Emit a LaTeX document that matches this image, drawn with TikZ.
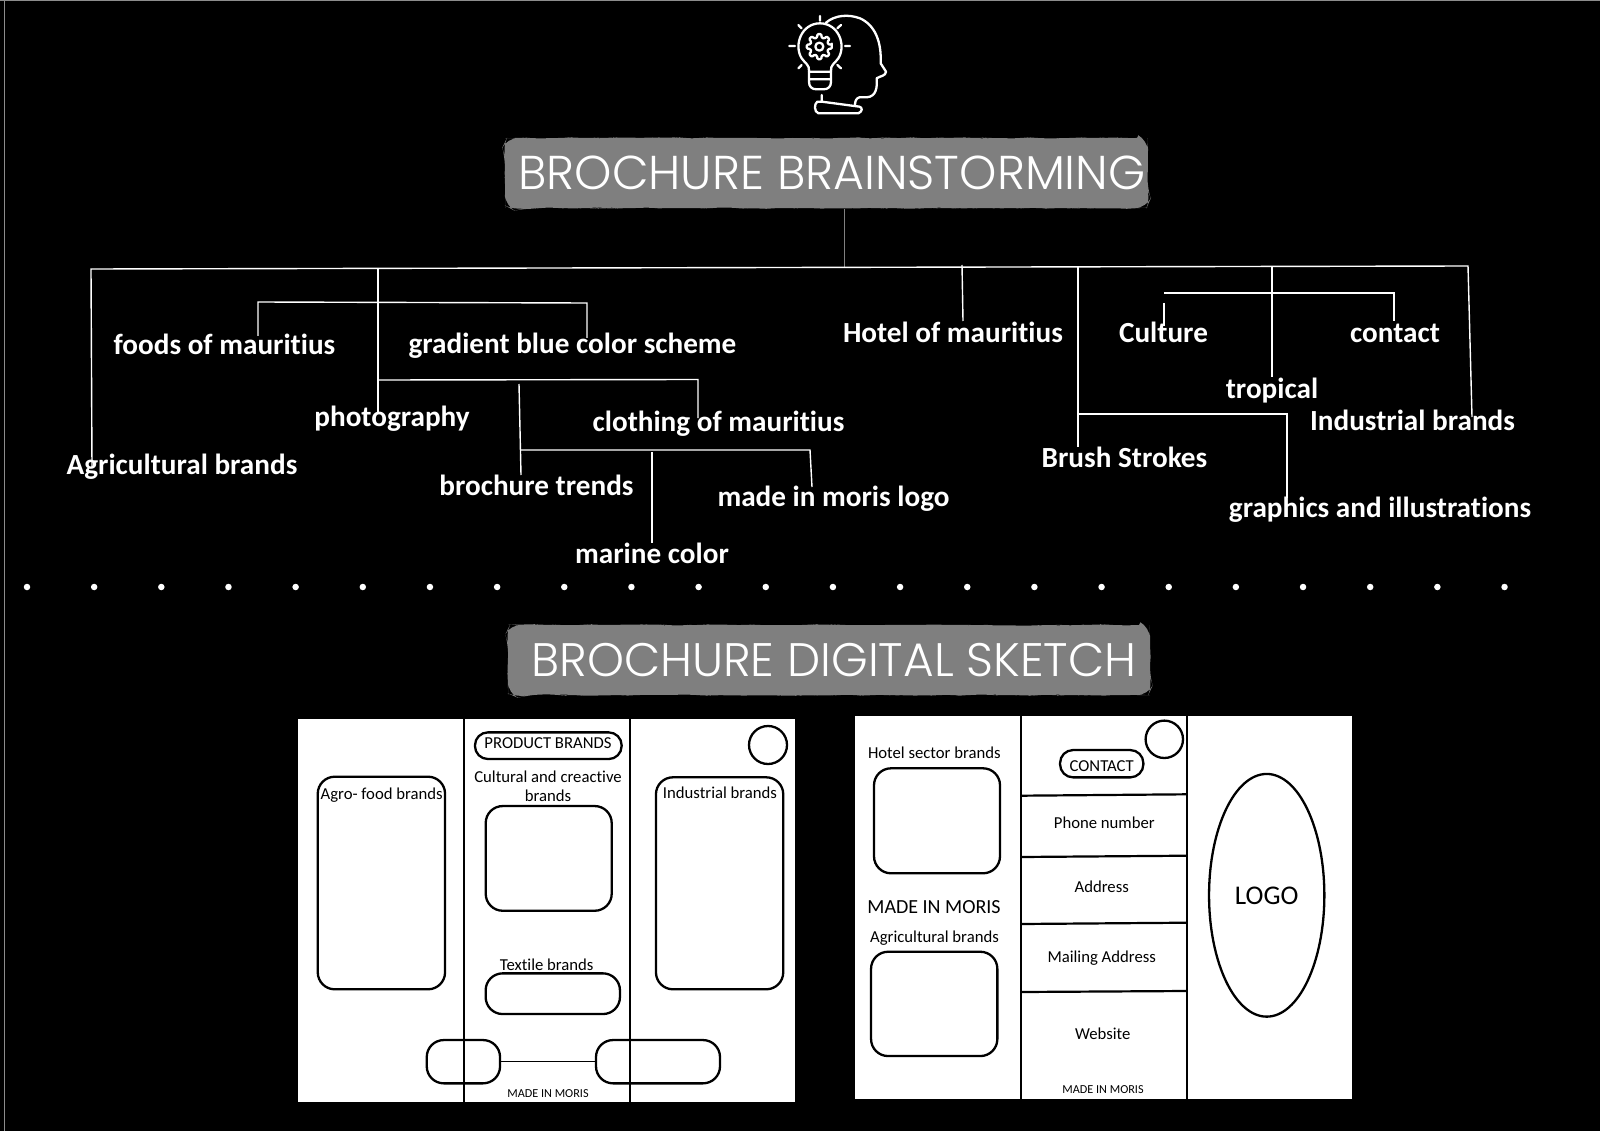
\documentclass[tikz,border=0pt]{standalone}
\usepackage{fontspec}
\setmainfont[Ligatures=NoCommon]{Carlito}
\newfontfamily\titlefont[UprightFont=* Light]{Poppins}
\usepackage{tikz}
\usetikzlibrary{decorations.pathmorphing,shapes.geometric}
\definecolor{titlegray}{HTML}{7F7F7F}
\tikzset{
  idea/.style={text=white,anchor=base,inner sep=0pt,font=\fontsize{29.2}{32}\selectfont\bfseries},
  branch/.style={white,line width=1.4pt},
  sepdot/.style={circle,fill=white,inner sep=0pt,minimum size=6.5pt},
  banner/.style={fill=titlegray,inner sep=0pt,rounded corners=11pt,decorate,decoration={random steps,segment length=9pt,amplitude=.7pt}},
  bannertext/.style={text=white,inner sep=0pt,font=\fontsize{47.5}{49}\titlefont},
  panel/.style={black,line width=2.2pt},
  sketchbox/.style={draw=black,line width=2.3pt,rounded corners=17pt,inner sep=0pt},
  sketchpill/.style={draw=black,line width=2.3pt,rounded corners=13pt,inner sep=0pt},
  note/.style={black,inner sep=0pt,align=center,font=\fontsize{16.7}{19}\selectfont},
  smallnote/.style={black,inner sep=0pt,font=\fontsize{12.2}{15}\selectfont}
}
\begin{document}
\begin{tikzpicture}[x=1pt,y=-1pt]
  \fill [black] (0,0) rectangle (1600,1131);
  \useasboundingbox (0,0) rectangle (1600,1131);
  \draw [gray!90, line width=1.2pt] (0,0.5) -- (1600,0.5) (4.5,0) -- (4.5,1131);

  % icon
  \begin{scope}[shift={(760,0)},x=0.3333pt,y=-0.3333pt,white,line width=2.3pt,line cap=round,line join=round]
    \draw (198,68) .. controls (225,45) and (265,42) .. (300,55) .. controls (345,75) and (365,125) .. (362,190) -- (378,215) .. controls (378,228) and (360,228) .. (350,235) .. controls (352,260) and (350,290) .. (320,292) -- (298,292) .. controls (288,295) and (285,305) .. (285,315);
    \draw (185,285) -- (185,305) -- (172,305) .. controls (162,312) and (162,335) .. (175,340) -- (295,340) .. controls (308,335) and (308,322) .. (298,320) -- (185,305);
    \draw (147,215) .. controls (150,195) and (135,190) .. (125,175) .. controls (100,135) and (125,70) .. (180,70) .. controls (235,70) and (260,135) .. (235,175) .. controls (225,190) and (210,195) .. (213,215) -- cycle;
    \draw (147,215) -- (147,245) .. controls (147,260) and (155,268) .. (170,268) -- (190,268) .. controls (205,268) and (213,260) .. (213,245) -- (213,215) (147,238) -- (213,238);
    \draw (178,140) circle [radius=12];
    \draw [rounded corners=1pt,shift={(178,140)}] (-9:38) \foreach \a in {0,45,...,315} { -- ({\a-9}:38) -- ({\a+9}:38) -- ({\a+14}:28) -- ({\a+31}:28) } -- cycle;
    \draw (180,48) -- (180,62) (115,75) -- (125,85) (88,138) -- (105,138) (255,138) -- (270,138) (115,205) -- (125,195) (232,195) -- (243,205) (232,85) -- (243,75);
  \end{scope}

  % first heading
  \node [banner,minimum width=643pt,minimum height=70pt] (brainbanner) at (826.5,173) {};
  \node [bannertext] (braintitle) at (832,173) {BROCHURE BRAINSTORMING};

  % tree labels
  \node [idea] (foods) at (224.5,354) {foods of mauritius};
  \node [idea] (gradient) at (572.5,353) {gradient blue color scheme};
  \node [idea] (photo) at (392,426) {photography};
  \node [idea] (clothing) at (718.5,431) {clothing of mauritius};
  \node [idea] (agri) at (182,474) {Agricultural brands};
  \node [idea] (trends) at (536.5,495) {brochure trends};
  \node [idea] (logoidea) at (833.5,506) {made in moris logo};
  \node [idea] (marine) at (652,563) {marine color};
  \node [idea] (hotel) at (953,342) {Hotel of mauritius};
  \node [idea] (culture) at (1163.5,343) {Culture};
  \node [idea] (contact) at (1395,343) {contact};
  \node [idea] (tropical) at (1272,398) {tropical};
  \node [idea] (industrial) at (1412.5,430) {Industrial brands};
  \node [idea] (brush) at (1124.5,467) {Brush Strokes};
  \node [idea] (graphics) at (1380,517) {graphics and illustrations};

  % joints of the tree
  \coordinate (stemtop) at (844,209);
  \coordinate (stem) at (844,267.5);
  \coordinate (trunkl) at (91,269);
  \coordinate (trunkr) at (1468,266);
  \coordinate (agriend) at (92,467);
  \coordinate (phototop) at (378,268.5);
  \coordinate (photoend) at (378,412);
  \coordinate (foodsend) at (258,336);
  \coordinate (foodsa) at (258,302);
  \coordinate (foodsb) at (587,303);
  \coordinate (gradend) at (587,338);
  \coordinate (clotha) at (378,380);
  \coordinate (clothb) at (698,379.5);
  \coordinate (clothend) at (698,418);
  \coordinate (trendtop) at (519,384);
  \coordinate (trendend) at (521,475);
  \coordinate (logoa) at (521,450);
  \coordinate (logob) at (810,450);
  \coordinate (logoend) at (812,487);
  \coordinate (marinetop) at (652,452);
  \coordinate (marineend) at (652,543);
  \coordinate (hoteltop) at (962,265);
  \coordinate (hotelend) at (963,321);
  \coordinate (brushtop) at (1078,267);
  \coordinate (brushend) at (1078,447);
  \coordinate (grapha) at (1078,414);
  \coordinate (graphb) at (1287,414);
  \coordinate (graphend) at (1287,498);
  \coordinate (troptop) at (1272,266.5);
  \coordinate (tropend) at (1272,377);
  \coordinate (culta) at (1164,293);
  \coordinate (contb) at (1394,293);
  \coordinate (contend) at (1394,321);
  \coordinate (culttop) at (1164,303);
  \coordinate (cultend) at (1164,326);
  \coordinate (indend) at (1472,417);

  \draw [gray, line width=1pt] (stemtop) -- (stem);
  \draw [branch] (agriend) -- (trunkl) -- (trunkr) -- (indend);
  \draw [branch] (phototop) -- (photoend);
  \draw [branch] (foodsend) -- (foodsa) -- (foodsb) -- (gradend);
  \draw [branch] (clotha) -- (clothb) -- (clothend);
  \draw [branch] (trendtop) -- (trendend);
  \draw [branch] (logoa) -- (logob) -- (logoend);
  \draw [branch] (marinetop) -- (marineend);
  \draw [branch] (hoteltop) -- (hotelend);
  \draw [branch] (brushtop) -- (brushend);
  \draw [branch] (grapha) -- (graphb) -- (graphend);
  \draw [branch] (troptop) -- (tropend);
  \draw [branch] (culta) -- (contb) -- (contend);
  \draw [branch] (culttop) -- (cultend);

  \foreach \i in {0,...,22}
    \node [sepdot] (dot\i) at ({27+\i*67.16},587) {};

  % second heading
  \node [banner,minimum width=642pt,minimum height=70pt] (sketchbanner) at (829,660) {};
  \node [bannertext,font=\fontsize{47}{49}\titlefont] (sketchtitle) at (834,660) {BROCHURE DIGITAL SKETCH};

  % left sketch
  \fill [white] (298.3,719) rectangle (795,1101.7);
  \draw [panel] (464,717) -- (464,1103) (630,717) -- (630,1103);
  \node [sketchbox,minimum width=127.3pt,minimum height=212.6pt] (agrobox) at (381.4,883) {};
  \node [sketchbox,minimum width=127.3pt,minimum height=212pt] (indbox) at (719.6,883.3) {};
  \node [sketchbox,minimum width=126pt,minimum height=104.7pt] (cultbox) at (548.7,858.4) {};
  \node [sketchbox,minimum width=134.3pt,minimum height=40.7pt] (textilebox) at (552.8,993.7) {};
  \node [sketchpill,minimum width=146.7pt,minimum height=26.7pt] (productpill) at (548.3,745.7) {};
  \node [note] (productnote) at (548,743) {PRODUCT BRANDS};
  \node [circle,draw=black,line width=2.3pt,inner sep=0pt,minimum size=38pt] (leftseal) at (768,745) {};
  \node [sketchbox,minimum width=73.3pt,minimum height=43.3pt] (footl) at (463.4,1061.7) {};
  \node [sketchbox,minimum width=124pt,minimum height=43.3pt] (footr) at (658,1061.7) {};
  \draw [black, line width=1pt] (footl) -- (footr);
  \node [note] (cultnote) at (548,786.5) {Cultural and creactive\\brands};
  \node [note] (agronote) at (381.7,795) {Agro- food brands};
  \node [note] (indnote) at (720,793) {Industrial brands};
  \node [note] (textnote) at (546.7,965) {Textile brands};
  \node [smallnote] (madeleft) at (548,1094) {MADE IN MORIS};

  % right sketch
  \fill [white] (855,716) rectangle (1351.7,1099);
  \draw [panel] (1020.7,714) -- (1020.7,1101) (1187.3,714) -- (1187.3,1101);
  \coordinate (rowal) at (1020.7,795.7);
  \coordinate (rowar) at (1187.3,794.3);
  \coordinate (rowbl) at (1020.7,857);
  \coordinate (rowbr) at (1187.3,855.7);
  \coordinate (rowcl) at (1020.7,924);
  \coordinate (rowcr) at (1187.3,922.7);
  \coordinate (rowdl) at (1020.7,992);
  \coordinate (rowdr) at (1187.3,991);
  \draw [panel] (rowal) -- (rowar) (rowbl) -- (rowbr) (rowcl) -- (rowcr) (rowdl) -- (rowdr);
  \node [sketchbox,minimum width=126pt,minimum height=105pt] (hotelbox) at (937,820.8) {};
  \node [sketchbox,minimum width=126.3pt,minimum height=104.3pt] (agribox) at (934.2,1003.9) {};
  \node [circle,draw=black,line width=2.3pt,inner sep=0pt,minimum size=37.4pt] (rightseal) at (1164.3,739.3) {};
  \node [sketchpill,minimum width=83.3pt,minimum height=27.3pt] (contactpill) at (1101.7,763.7) {};
  \node [note] (contactnote) at (1101.7,766) {CONTACT};
  \node [ellipse,draw=black,line width=2.3pt,inner sep=0pt,minimum width=115.3pt,minimum height=242.7pt] (logooval) at (1266.7,895.3) {};
  \node [note,font=\fontsize{27}{29}\selectfont] (logonote) at (1266.7,895.5) {LOGO};
  \node [note] (hotelnote) at (934.3,753) {Hotel sector brands};
  \node [note,font=\fontsize{20}{22}\selectfont] (madebig) at (934,906.7) {MADE IN MORIS};
  \node [note] (agrinote) at (934.5,937.7) {Agricultural brands};
  \node [note] (phonenote) at (1104.3,822.7) {Phone number};
  \node [note] (addrnote) at (1101.7,886.5) {Address};
  \node [note] (mailnote) at (1101.7,957.7) {Mailing Address};
  \node [note] (webnote) at (1102.7,1034) {Website};
  \node [smallnote] (maderight) at (1103,1090) {MADE IN MORIS};
\end{tikzpicture}
\end{document}
